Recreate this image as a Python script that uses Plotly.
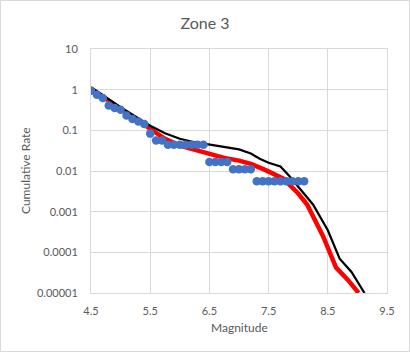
import plotly.graph_objects as go

# Observed data (blue points)
obs_mag = [4.5, 4.6, 4.7, 4.8, 4.9, 5.0, 5.1, 5.2, 5.3, 5.4, 5.5, 5.6, 5.7,
           5.8, 5.9, 6.0, 6.1, 6.2, 6.3, 6.4,
           6.5, 6.6, 6.7, 6.8,
           6.9, 7.0, 7.1, 7.2,
           7.3, 7.4, 7.5, 7.6, 7.7, 7.8, 7.9, 8.0, 8.1]
obs_rate = [0.94, 0.75, 0.62, 0.41, 0.355, 0.32, 0.233, 0.19, 0.166, 0.144, 0.083, 0.056, 0.056,
            0.0444, 0.0444, 0.0444, 0.0444, 0.0444, 0.0444, 0.0444,
            0.0167, 0.0167, 0.0167, 0.0167,
            0.0111, 0.0111, 0.0111, 0.0111,
            0.0056, 0.0056, 0.0056, 0.0056, 0.0056, 0.0056, 0.0056, 0.0056, 0.0056]

# Model curve (black)
black_mag = [4.5, 4.75, 5.0, 5.25, 5.5, 5.75, 6.0, 6.25, 6.5, 6.75, 7.0, 7.2, 7.35, 7.5,
             7.7, 7.85, 8.0, 8.25, 8.5, 8.7, 8.9, 9.12]
black_rate = [1.15, 0.65, 0.37, 0.22, 0.13, 0.085, 0.062, 0.051, 0.045, 0.04, 0.034, 0.027,
              0.02, 0.016, 0.013, 0.0075, 0.0042, 0.0015, 0.00035, 0.00007, 0.000033, 0.00001]

# Model curve (red)
red_mag = [4.5, 4.75, 5.0, 5.25, 5.5, 5.75, 6.0, 6.25, 6.5, 6.75, 7.0, 7.2, 7.45, 7.75,
           8.0, 8.15, 8.42, 8.64, 8.84, 9.02]
red_rate = [1.05, 0.6, 0.34, 0.19, 0.11, 0.062, 0.042, 0.033, 0.027, 0.021, 0.018, 0.015,
            0.0105, 0.0065, 0.0028, 0.0015, 0.00025, 0.000042, 0.000021, 0.00001]

x_ticks = [4.5, 5.5, 6.5, 7.5, 8.5, 9.5]
y_ticks = [10, 1, 0.1, 0.01, 0.001, 0.0001, 0.00001]
y_ticktext = ["10", "1", "0.1", "0.01", "0.001", "0.0001", "0.00001"]

FONT = "Lato, 'Liberation Sans', sans-serif"
GRID = "#d9d9d9"
TXT = "#595959"

fig = go.Figure()
fig.add_trace(go.Scatter(x=red_mag, y=red_rate, mode="lines",
                         line=dict(color="#ff0000", width=4.5), showlegend=False))
fig.add_trace(go.Scatter(x=black_mag, y=black_rate, mode="lines",
                         line=dict(color="#000000", width=2.25), showlegend=False))
fig.add_trace(go.Scatter(x=obs_mag, y=obs_rate, mode="markers",
                         marker=dict(color="#4472c4", size=8.5), showlegend=False))

L, R, T, B = 91, 23, 49, 59
W, H = 410, 352
pw, ph = W - L - R, H - T - B

fig.update_layout(
    width=W, height=H,
    margin=dict(l=L, r=R, t=T, b=B),
    paper_bgcolor="white", plot_bgcolor="white",
    font=dict(family=FONT, color=TXT, size=11),
    title=dict(text="Zone 3", x=0.5, xanchor="center", y=1 - 23 / H, yanchor="middle",
               font=dict(size=16, color=TXT, family=FONT)),
    xaxis=dict(range=[4.5, 9.5], tickvals=x_ticks, ticktext=[str(v) for v in x_ticks],
               showgrid=True, gridcolor=GRID, gridwidth=1, zeroline=False,
               showline=True, linecolor=GRID, linewidth=1, mirror=True,
               ticks="", ticklabelstandoff=8),
    yaxis=dict(type="log", range=[-5, 1], tickvals=y_ticks, ticktext=y_ticktext,
               showgrid=True, gridcolor=GRID, gridwidth=1, zeroline=False,
               showline=True, linecolor=GRID, linewidth=1, mirror=True,
               ticks="", ticklabelstandoff=10),
)

# axis titles
fig.add_annotation(text="Magnitude", xref="paper", yref="paper",
                   x=(239 - L) / pw, y=(H - B - 327) / ph, xanchor="center", yanchor="middle",
                   showarrow=False, font=dict(size=12, color=TXT))
fig.add_annotation(text="Cumulative Rate", xref="paper", yref="paper",
                   x=(25 - L) / pw, y=(H - B - 171) / ph, xanchor="center", yanchor="middle",
                   textangle=-90, showarrow=False, font=dict(size=12, color=TXT))

# chart-area border
fig.add_shape(type="rect", xref="paper", yref="paper",
              x0=(0.5 - L) / pw, x1=(W - 0.5 - L) / pw,
              y0=(0.5 - B) / ph, y1=(H - B - 0.5) / ph,
              line=dict(color=GRID, width=1), layer="below")

fig.write_html("out.html")
